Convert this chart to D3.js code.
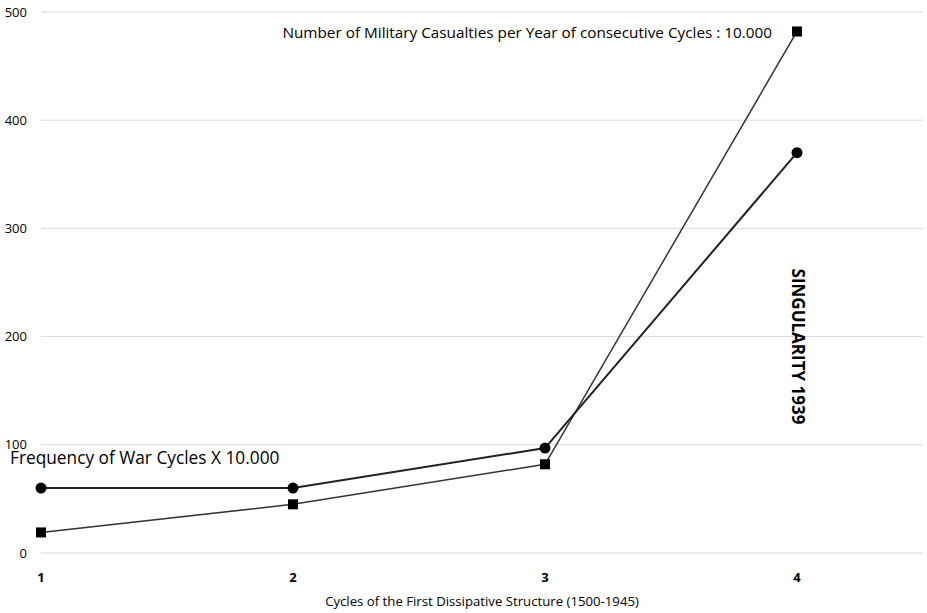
<!DOCTYPE html>
<html>
<head>
<meta charset="utf-8">
<script src="https://cdn.jsdelivr.net/npm/d3@7"></script>
<style>
  body { margin: 0; background: #fff; }
  text { font-family: "Open Sans", sans-serif; fill: #000; }
</style>
</head>
<body>
<div id="chart"></div>
<script>
// data
var cycles = [1, 2, 3, 4];
var frequency = [60, 60, 97, 370];      // circles
var casualties = [19, 45, 82, 482];     // squares
var yTicks = [0, 100, 200, 300, 400, 500];

var width = 927, height = 613;

var svg = d3.select("#chart")
    .append("svg")
    .attr("width", width)
    .attr("height", height);

var x = d3.scaleLinear()
    .domain([1, 4.5])
    .range([41, 923]);

var y = d3.scaleLinear()
    .domain([0, 500])
    .range([553, 12]);

// gridlines
svg.append("g")
    .selectAll("line")
    .data(yTicks)
    .enter().append("line")
    .attr("x1", x(1))
    .attr("x2", x(4.5))
    .attr("y1", function(d) { return y(d); })
    .attr("y2", function(d) { return y(d); })
    .style("stroke", "#d9d9d9")
    .style("stroke-width", 1);

// y labels
svg.append("g")
    .selectAll("text")
    .data(yTicks)
    .enter().append("text")
    .attr("x", 27)
    .attr("y", function(d) { return y(d); })
    .attr("dy", "0.35em")
    .attr("text-anchor", "end")
    .style("font-size", "13px")
    .text(function(d) { return d; });

// x labels
svg.append("g")
    .selectAll("text")
    .data(cycles)
    .enter().append("text")
    .attr("x", function(d) { return x(d); })
    .attr("y", 582)
    .attr("text-anchor", "middle")
    .style("font-size", "13px")
    .style("font-weight", "bold")
    .text(function(d) { return d; });

svg.append("text")
    .attr("x", 482)
    .attr("y", 606)
    .attr("text-anchor", "middle")
    .style("font-size", "13.2px")
    .text("Cycles of the First Dissipative Structure (1500-1945)");

var line = d3.line()
    .x(function(d, i) { return x(cycles[i]); })
    .y(function(d) { return y(d); });

svg.append("path")
    .datum(casualties)
    .attr("d", line)
    .style("fill", "none")
    .style("stroke", "#333")
    .style("stroke-width", 1.5);

svg.append("path")
    .datum(frequency)
    .attr("d", line)
    .style("fill", "none")
    .style("stroke", "#222")
    .style("stroke-width", 2);

svg.append("g")
    .selectAll("rect")
    .data(casualties)
    .enter().append("rect")
    .attr("x", function(d, i) { return x(cycles[i]) - 5; })
    .attr("y", function(d) { return y(d) - 5; })
    .attr("width", 10)
    .attr("height", 10)
    .style("fill", "#000");

svg.append("g")
    .selectAll("circle")
    .data(frequency)
    .enter().append("circle")
    .attr("cx", function(d, i) { return x(cycles[i]); })
    .attr("cy", function(d) { return y(d); })
    .attr("r", 5.5)
    .style("fill", "#000");

// annotations
svg.append("text")
    .attr("x", 772)
    .attr("y", 37.5)
    .attr("text-anchor", "end")
    .style("font-size", "15.3px")
    .text("Number of Military Casualties per Year of consecutive Cycles : 10.000");

svg.append("text")
    .attr("x", 10)
    .attr("y", 463.5)
    .style("font-size", "17.3px")
    .text("Frequency of War Cycles X 10.000");

svg.append("text")
    .attr("transform", "translate(792,346.5)rotate(90)")
    .attr("text-anchor", "middle")
    .style("font-size", "17px")
    .style("font-weight", "bold")
    .text("SINGULARITY 1939");
</script>
</body>
</html>
